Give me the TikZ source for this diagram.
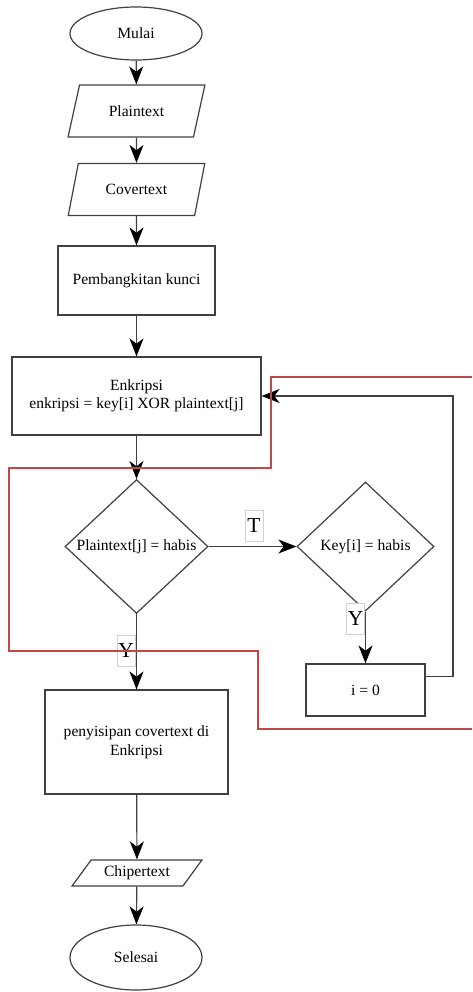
\documentclass[tikz,border=0pt]{standalone}
\usepackage{fontspec}
\setmainfont{Liberation Serif}
\usetikzlibrary{arrows.meta,shapes.geometric,calc}
\definecolor{ln}{gray}{0.25}
\definecolor{redline}{RGB}{192,72,72}
\begin{document}
\begin{tikzpicture}[x=0.75pt,y=-0.75pt,
  every node/.style={font=\fontsize{11.7}{13.8}\selectfont, inner sep=0pt, align=center},
  shp/.style={draw=ln, line width=0.9pt},
  term/.style={shp, ellipse, minimum width=99pt},
  io/.style={shp, trapezium, trapezium left angle=63, trapezium right angle=117, trapezium stretches=true, minimum width=102.75pt, minimum height=39pt},
  proc/.style={shp, rectangle},
  dec/.style={shp, diamond, minimum height=96.75pt},
  arr/.style={draw=ln, line width=0.9pt, -{Stealth[length=13.5pt,width=10.5pt,inset=4pt,color=black]}},
  lbl/.style={draw=black!18, line width=0.4pt, fill=white, minimum width=13.5pt, minimum height=23.5pt, font=\fontsize{16}{18}\selectfont}
]
\useasboundingbox (0,0) rectangle (472,992);

\node[term, minimum height=39.75pt] (mulai) at (136,33.5) {Mulai};
\node[io] (plain) at (136.5,111) {Plaintext};
\node[io] (cover) at (136.5,189.5) {Covertext};
\node[proc, minimum width=117.75pt, minimum height=51.75pt] (kunci) at (136.5,280.5) {Pembangkitan kunci};
\node[proc, minimum width=186.75pt, minimum height=58.5pt] (enk) at (136.5,396) {Enkripsi\\enkripsi = key[i] XOR plaintext[j]};
\node[dec, minimum width=107.25pt] (d1) at (136.5,546.5) {Plaintext[j] = habis};
\node[dec, minimum width=102.75pt] (d2) at (365.5,546.5) {Key[i] = habis};
\node[proc, minimum width=89.25pt, minimum height=39pt] (i0) at (365.5,690) {i = 0};
\node[proc, minimum width=137.25pt, minimum height=78pt, font=\fontsize{11.7}{14.2}\selectfont] (pen) at (136.5,742) {penyisipan covertext di\\Enkripsi};
\node[shp, trapezium, trapezium left angle=46, trapezium right angle=134, trapezium stretches=true, minimum width=97.5pt, minimum height=19.5pt] (chip) at (137,873) {Chipertext};
\node[term, minimum height=48.75pt] (selesai) at (136,957.5) {Selesai};

\coordinate (fb) at (453,396);

\draw[arr] (mulai) -- (plain);
\draw[arr] (plain) -- (cover);
\draw[arr] (cover) -- (kunci);
\draw[arr] (kunci) -- (enk);
\draw[arr] (enk) -- (d1);
\draw[arr] (d1.east) -- (d2.west);
\draw[arr] (d2.south) -- (i0.north);
\draw[arr] ($(i0.north east)!0.25!(i0.south east)$) -| (fb) -- (enk.east);
\draw[arr] (d1.south) -- (pen.north);
\draw[arr] (pen) -- (chip);
\draw[arr] (chip) -- (selesai);

\node[lbl] (lt) at (254,525.5) {T};
\node[lbl] (ly2) at (355.5,618.5) {Y};
\node[lbl] (ly1) at (126,651) {Y};

\draw[redline, line width=0.8pt] (472,377) -- (271,377) -- (271,468) -- (9,468) -- (9,651) -- (258,651) -- (258,729) -- (472,729);
\end{tikzpicture}
\end{document}
